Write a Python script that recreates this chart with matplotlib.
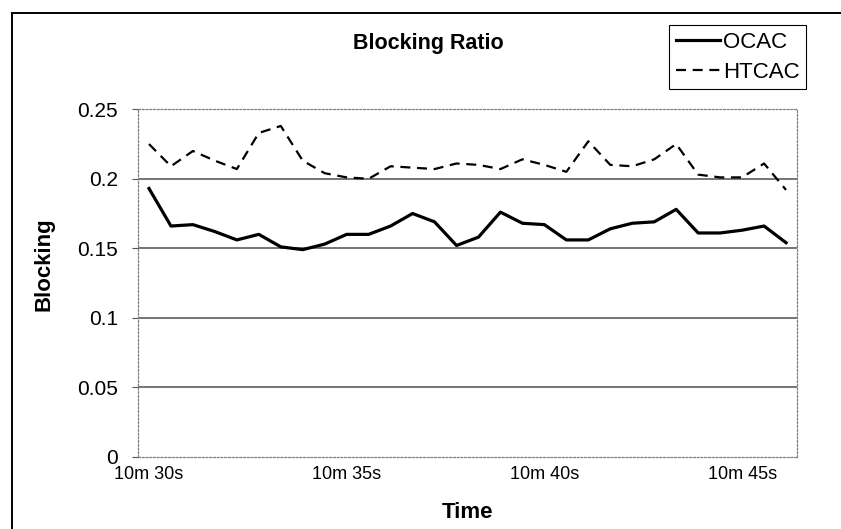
import matplotlib
matplotlib.use("Agg")
import matplotlib.pyplot as plt
import matplotlib.transforms as mtransforms
from matplotlib.lines import Line2D

plt.rcParams['font.family'] = ['Liberation Sans', 'DejaVu Sans']

# data
ocac = [0.193, 0.166, 0.167, 0.162, 0.156, 0.160, 0.151, 0.149, 0.153, 0.160,
        0.160, 0.166, 0.175, 0.169, 0.152, 0.158, 0.176, 0.168, 0.167, 0.156,
        0.156, 0.164, 0.168, 0.169, 0.178, 0.161, 0.161, 0.163, 0.166, 0.154]
htcac = [0.225, 0.209, 0.220, 0.213, 0.207, 0.233, 0.238, 0.213, 0.204, 0.201,
         0.200, 0.209, 0.208, 0.207, 0.211, 0.210, 0.207, 0.214, 0.210, 0.205,
         0.227, 0.210, 0.209, 0.214, 0.225, 0.203, 0.201, 0.201, 0.211, 0.192]
tick_cats = [0, 9, 18, 27]
tick_labels = ["10m 30s", "10m 35s", "10m 40s", "10m 45s"]
y_ticks = [0, 0.05, 0.1, 0.15, 0.2, 0.25]
y_tick_labels = ["0", "0.05", "0.1", "0.15", "0.2", "0.25"]

W, H = 841, 529
fig = plt.figure(figsize=(W / 100, H / 100), dpi=100)
ax = fig.add_axes([138 / W, 1 - 456.7 / H, (797 - 138) / W, (456.7 - 109.3) / H])

x = list(range(len(ocac)))
ax.plot(x, ocac, color='black', lw=2.3, label='OCAC')
ax.plot(x, htcac, color='black', lw=1.6, ls=(0, (4.5, 3)), label='HTCAC')

ax.set_xlim(-0.5, len(ocac) - 0.5)
ax.set_ylim(0, 0.25)
ax.set_yticks(y_ticks)
ax.set_yticklabels(y_tick_labels, fontsize=15)
ax.set_xticks(tick_cats)
ax.set_xticklabels(tick_labels, fontsize=13)

# Excel put the category labels a bit right of the points
offset = mtransforms.ScaledTranslation(17 / 100, 0, fig.dpi_scale_trans)
for lab in ax.get_xticklabels():
    lab.set_transform(lab.get_transform() + offset)

ax.tick_params(axis='x', length=0, pad=7)
ax.tick_params(axis='y', length=4.5, width=0.8, color='#555555', pad=10)

for yv in y_ticks[1:-1]:
    ax.axhline(yv, color='#505050', lw=1.1, zorder=0)

for side in ['top', 'right', 'bottom', 'left']:
    ax.spines[side].set_linestyle((0, (1.5, 1.5)))
    ax.spines[side].set_color('#808080')
    ax.spines[side].set_linewidth(0.9)

ax.set_ylabel("Blocking", fontsize=16, fontweight='bold')
ax.yaxis.set_label_coords(54 / W, 0.5, transform=fig.transFigure)
fig.text(467 / W, 1 - 512 / H, "Time", fontsize=16, fontweight='bold',
         ha='center', va='center')
fig.text(353 / W, 1 - 43.3 / H, "Blocking Ratio", fontsize=15.5, fontweight='bold',
         ha='left', va='center')

leg = fig.legend(loc='upper right', bbox_to_anchor=(806 / W, 1 - 25 / H),
                 fontsize=16, handlelength=2.0, handletextpad=0.1,
                 labelspacing=0.4, borderpad=0.3, borderaxespad=0,
                 fancybox=False, framealpha=1)
leg.get_frame().set_edgecolor('black')
leg.get_frame().set_linewidth(0.8)

# outer chart frame (cut off at right and bottom)
fig.add_artist(Line2D([12 / W, 12 / W], [0, 1 - 12.7 / H], color='black', lw=1.4,
                      transform=fig.transFigure))
fig.add_artist(Line2D([12 / W, 1], [1 - 12.7 / H, 1 - 12.7 / H], color='black', lw=1.4,
                      transform=fig.transFigure))

fig.savefig("out.png", dpi=100)
